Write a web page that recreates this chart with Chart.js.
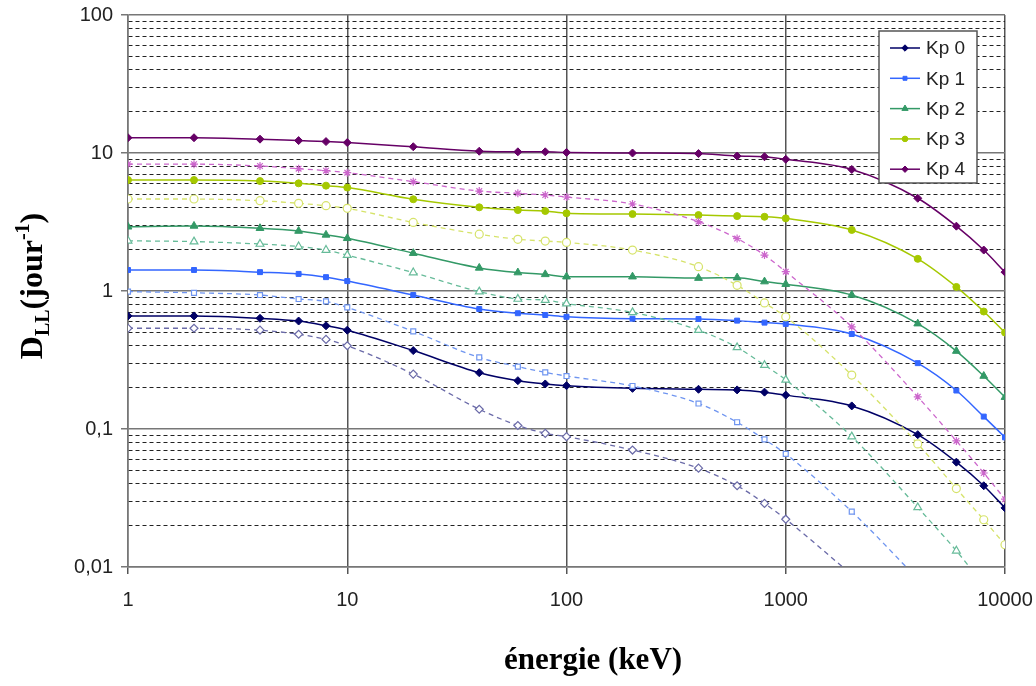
<!DOCTYPE html>
<html>
<head>
<meta charset="utf-8">
<script src="https://cdn.jsdelivr.net/npm/chart.js"></script>
<style>
  body { margin:0; background:#fff; }
  #wrap { width:1036px; height:686px; position:relative; }
</style>
</head>
<body>
<div id="wrap"><canvas id="chart" width="1036" height="686"></canvas></div>
<script>
// energies (keV)
const energies = [1, 2, 4, 6, 8, 10, 20, 40, 60, 80, 100, 200, 400, 600, 800, 1000, 2000, 4000, 6000, 8000, 10000]

// solid curves
const kp0 = [0.66, 0.66, 0.634, 0.606, 0.56, 0.52, 0.37, 0.256, 0.224, 0.212, 0.206, 0.197, 0.194, 0.192, 0.185, 0.176, 0.147, 0.091, 0.0575, 0.0388, 0.0268]
const kp1 = [1.42, 1.42, 1.37, 1.33, 1.26, 1.18, 0.935, 0.74, 0.69, 0.67, 0.65, 0.63, 0.627, 0.61, 0.59, 0.577, 0.488, 0.30, 0.19, 0.123, 0.087]
const kp2 = [2.92, 2.96, 2.85, 2.72, 2.55, 2.41, 1.88, 1.47, 1.36, 1.32, 1.27, 1.27, 1.24, 1.25, 1.17, 1.12, 0.935, 0.58, 0.367, 0.242, 0.17]
const kp3 = [6.37, 6.37, 6.26, 6.03, 5.8, 5.62, 4.62, 4.04, 3.86, 3.8, 3.66, 3.61, 3.55, 3.49, 3.45, 3.36, 2.77, 1.71, 1.07, 0.71, 0.50]
const kp4 = [12.9, 12.9, 12.6, 12.3, 12.1, 11.9, 11.1, 10.3, 10.2, 10.2, 10.1, 10.0, 9.9, 9.5, 9.4, 9.0, 7.6, 4.7, 2.95, 1.98, 1.37]

// dashed curves (open markers)
const kp0d = [0.537, 0.537, 0.52, 0.486, 0.446, 0.401, 0.25, 0.139, 0.106, 0.093, 0.088, 0.0704, 0.052, 0.0388, 0.0289, 0.0222, 0.0088, null, null, null, null]
const kp1d = [0.99, 0.97, 0.935, 0.875, 0.84, 0.76, 0.51, 0.33, 0.283, 0.257, 0.242, 0.205, 0.153, 0.112, 0.084, 0.066, 0.0252, 0.0082, null, null, null]
const kp2d = [2.31, 2.28, 2.19, 2.10, 1.98, 1.82, 1.36, 0.99, 0.875, 0.86, 0.81, 0.70, 0.52, 0.39, 0.29, 0.227, 0.088, 0.027, 0.0131, 0.0074, null]
const kp3d = [4.64, 4.64, 4.51, 4.32, 4.15, 3.97, 3.14, 2.58, 2.37, 2.30, 2.25, 1.98, 1.50, 1.10, 0.82, 0.65, 0.246, 0.078, 0.037, 0.022, 0.0145]
const kp4d = [8.3, 8.3, 8.05, 7.7, 7.45, 7.2, 6.2, 5.3, 5.1, 4.96, 4.8, 4.27, 3.18, 2.4, 1.82, 1.38, 0.55, 0.171, 0.082, 0.048, 0.031]

const seriesLabels = ['Kp 0', 'Kp 1', 'Kp 2', 'Kp 3', 'Kp 4']

// axis ticks
const xDecades = [1, 10, 100, 1000, 10000]
const xTickLabels = ['1', '10', '100', '1000', '10000']
const yDecades = [0.01, 0.1, 1, 10, 100]
const yTickLabels = ['0,01', '0,1', '1', '10', '100']

const FONT = '"Liberation Sans", Arial, sans-serif'
const SERIF = '"Liberation Serif", "Times New Roman", serif'

function pts(vals){
  return energies.map((e,i)=>({x:e, y:vals[i]}))
}

function solid(label, vals, color, style, r){
  return {label, data:pts(vals), borderColor:color, backgroundColor:color,
    borderWidth:1.5, pointStyle:style, pointRadius:r, pointBorderColor:color,
    pointBackgroundColor:color, pointBorderWidth:1, cubicInterpolationMode:'monotone', inLegend:true}
}
function dashed(label, vals, color, style, r){
  return {label, data:pts(vals), borderColor:color, backgroundColor:'#fff',
    borderWidth:1.3, borderDash:[5,4], pointStyle:style, pointRadius:r, pointBorderColor:color,
    pointBackgroundColor:'#fff', pointBorderWidth:1.2, cubicInterpolationMode:'monotone', inLegend:false}
}

const datasets = [
  dashed('Kp 0 (b)', kp0d, '#6a6aa8', 'rectRot', 4),
  dashed('Kp 1 (b)', kp1d, '#6f95f0', 'rect', 3.5),
  dashed('Kp 2 (b)', kp2d, '#66bb99', 'triangle', 4.5),
  dashed('Kp 3 (b)', kp3d, '#d6e36a', 'circle', 4),
  dashed('Kp 4 (b)', kp4d, '#cc66cc', 'star', 4),
  solid(seriesLabels[0], kp0, '#000066', 'rectRot', 4),
  solid(seriesLabels[1], kp1, '#3366ff', 'rect', 3.5),
  solid(seriesLabels[2], kp2, '#339966', 'triangle', 4.5),
  solid(seriesLabels[3], kp3, '#a5c800', 'circle', 3.5),
  solid(seriesLabels[4], kp4, '#660066', 'rectRot', 4),
]

const isDecade = v => yDecades.includes(v) || xDecades.includes(v)

// horizontal grid values 1..9 per decade
const yMinor = []
yDecades.slice(0,-1).forEach(d=>{ for(let k=1;k<=9;k++) yMinor.push(k===1 ? d : k*d) })
yMinor.push(yDecades[yDecades.length-1])

// legend drawn inside the plot, Excel style (line + marker)
const boxLegend = {
  id:'boxLegend',
  afterDraw(chart){
    const ctx = chart.ctx
    const items = chart.data.datasets.filter(d=>d.inLegend)
    const x0 = 879, y0 = 31, w = 98, h = 152
    ctx.save()
    ctx.fillStyle = '#fff'
    ctx.fillRect(x0, y0, w, h)
    ctx.strokeStyle = '#555'
    ctx.lineWidth = 1.5
    ctx.strokeRect(x0, y0, w, h)
    ctx.font = '19px ' + FONT
    ctx.textBaseline = 'middle'
    items.forEach((d,i)=>{
      const y = 48 + i*30.3
      ctx.strokeStyle = d.borderColor
      ctx.lineWidth = 1.5
      ctx.beginPath(); ctx.moveTo(890, y); ctx.lineTo(920, y); ctx.stroke()
      ctx.fillStyle = d.pointBackgroundColor
      ctx.strokeStyle = d.pointBorderColor
      ctx.lineWidth = 1
      Chart.helpers.drawPoint(ctx, {pointStyle:d.pointStyle, radius:d.pointRadius*0.8, rotation:0, borderWidth:1}, 905, y)
      ctx.fillStyle = '#222'
      ctx.textAlign = 'left'
      ctx.fillText(d.label, 926, y+1)
    })
    ctx.restore()
  }
}

// axis titles with sub/superscripts
const axisTitles = {
  id:'axisTitles',
  afterDraw(chart){
    const ctx = chart.ctx
    ctx.save()
    ctx.fillStyle = '#000'
    ctx.textBaseline = 'alphabetic'
    // x title
    ctx.font = 'bold 31px ' + SERIF
    ctx.textAlign = 'center'
    ctx.fillText('énergie (keV)', 593, 669)
    // y title
    const parts = [
      {t:'D', s:32, dy:0},
      {t:'LL', s:20, dy:7},
      {t:'(jour', s:32, dy:0},
      {t:'-1', s:20, dy:-13},
      {t:')', s:32, dy:0},
    ]
    let total = 0
    parts.forEach(p=>{ ctx.font = 'bold '+p.s+'px '+SERIF; p.w = ctx.measureText(p.t).width; total += p.w })
    ctx.translate(42, 286)
    ctx.rotate(-Math.PI/2)
    ctx.textAlign = 'left'
    let x = -total/2
    parts.forEach(p=>{ ctx.font = 'bold '+p.s+'px '+SERIF; ctx.fillText(p.t, x, p.dy); x += p.w })
    ctx.restore()
  }
}

new Chart(document.getElementById('chart').getContext('2d'), {
  type:'line',
  data:{datasets},
  options:{
    responsive:false,
    animation:false,
    layout:{padding:{top:15, right:31, left:0, bottom:0}},
    plugins:{legend:{display:false}, tooltip:{enabled:false}},
    scales:{
      x:{
        type:'logarithmic', min:1, max:10000,
        afterBuildTicks: s => { s.ticks = xDecades.map(v=>({value:v})) },
        afterFit: s => { s.height = 119; s.paddingLeft = 0; s.paddingRight = 0 },
        ticks:{autoSkip:false, maxRotation:0, padding:14, color:'#222', font:{family:FONT, size:20},
          callback:(v)=> xTickLabels[xDecades.indexOf(v)] ?? ''},
        grid:{color:'#555', lineWidth:1.5, tickLength:7, tickColor:'#555'},
        border:{color:'#777', width:1.5}
      },
      y:{
        type:'logarithmic', min:0.01, max:100,
        afterBuildTicks: s => { s.ticks = yMinor.map(v=>({value:v})) },
        afterFit: s => { s.width = 128; s.paddingTop = 0; s.paddingBottom = 0 },
        ticks:{autoSkip:false, padding:8, color:'#222', font:{family:FONT, size:20},
          callback:(v)=> { const i = yDecades.indexOf(v); return i>=0 ? yTickLabels[i] : '' }},
        grid:{
          color: c => (c.tick && isDecade(c.tick.value)) ? '#777' : '#222',
          lineWidth: c => (c.tick && isDecade(c.tick.value)) ? 1.5 : 1,
          tickLength:7,
          tickColor: c => (c.tick && isDecade(c.tick.value)) ? '#777' : 'rgba(0,0,0,0)'
        },
        border:{color:'#777', width:1.5,
          dash: c => (c && c.tick && !isDecade(c.tick.value)) ? [4,3] : []}
      }
    }
  },
  plugins:[boxLegend, axisTitles]
})
</script>
</body>
</html>
